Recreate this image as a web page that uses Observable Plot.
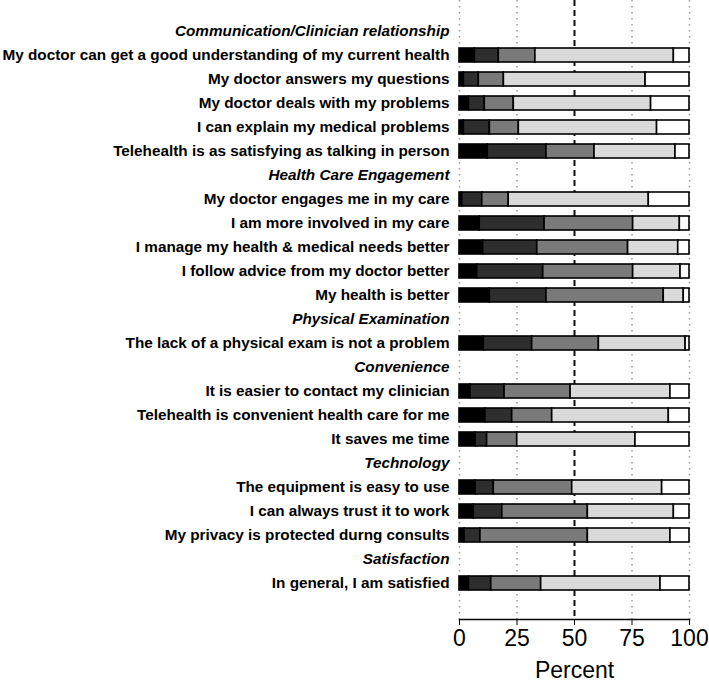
<!DOCTYPE html>
<html>
<head>
<meta charset="utf-8">
<script src="https://cdn.jsdelivr.net/npm/d3@7"></script>
<script src="https://cdn.jsdelivr.net/npm/@observablehq/plot@0.6"></script>
<style>
  html, body { margin: 0; padding: 0; background: #fff; }
  #chart { width: 709px; height: 683px; }
</style>
</head>
<body>
<div id="chart"></div>
<script>
const groups = [
  "Communication/Clinician relationship",
  "Health Care Engagement",
  "Physical Examination",
  "Convenience",
  "Technology",
  "Satisfaction"
];
const items = [
  "My doctor can get a good understanding of my current health",
  "My doctor answers my questions",
  "My doctor deals with my problems",
  "I can explain my medical problems",
  "Telehealth is as satisfying as talking in person",
  "My doctor engages me in my care",
  "I am more involved in my care",
  "I manage my health & medical needs better",
  "I follow advice from my doctor better",
  "My health is better",
  "The lack of a physical exam is not a problem",
  "It is easier to contact my clinician",
  "Telehealth is convenient health care for me",
  "It saves me time",
  "The equipment is easy to use",
  "I can always trust it to work",
  "My privacy is protected durng consults",
  "In general, I am satisfied"
];
const itemGroup = [0,0,0,0,0, 1,1,1,1,1, 2, 3,3,3, 4,4,4, 5];
const levels = ["Level 1", "Level 2", "Level 3", "Level 4", "Level 5"];
const levelColors = ["#000000", "#2e2e2e", "#7a7a7a", "#dadada", "#ffffff"];
const level1 = [6.7, 1.9, 4.1, 1.9, 12.3, 1.2, 8.8, 10.3, 7.7, 13.2, 10.6, 4.8, 11.3, 7.0, 7.0, 6.2, 2.2, 4.1];
const level2 = [10.4, 6.5, 6.9, 11.3, 25.5, 8.7, 28.2, 23.5, 28.7, 24.6, 21.0, 14.8, 11.6, 5.0, 7.9, 12.4, 6.9, 9.7];
const level3 = [15.9, 10.9, 12.6, 12.6, 20.9, 11.5, 38.5, 39.5, 39.1, 51.0, 29.0, 28.7, 17.4, 13.1, 34.1, 37.2, 46.7, 21.7];
const level4 = [60.2, 61.6, 59.7, 60.1, 35.2, 60.9, 20.3, 21.8, 20.6, 8.7, 37.7, 43.4, 50.7, 51.4, 39.1, 37.4, 35.9, 51.9];
const level5 = [6.8, 19.1, 16.7, 14.1, 6.1, 17.7, 4.2, 4.9, 3.9, 2.5, 1.7, 8.3, 9.0, 23.5, 11.9, 6.8, 8.3, 12.6];
const xTicks = [0, 25, 50, 75, 100];
const dottedTicks = [0, 25, 75, 100];

// Build row order: header followed by its items
const rowOrder = [];
groups.forEach((g, gi) => {
  rowOrder.push(g);
  items.forEach((it, i) => { if (itemGroup[i] === gi) rowOrder.push(it); });
});
const levelValues = [level1, level2, level3, level4, level5];
const table = [];
items.forEach((it, i) => {
  levels.forEach((lv, li) => table.push({item: it, level: lv, value: levelValues[li][i]}));
});
const firstItems = items.filter((it, i) => i === 0);
const otherRows = rowOrder.slice(2);

const chart = Plot.plot({
  width: 709,
  height: 683,
  marginTop: 0,
  marginLeft: 459,
  marginRight: 20,
  marginBottom: 64,
  style: {fontFamily: "Liberation Sans, Arial, sans-serif", color: "#000", background: "#fff"},
  x: {domain: [0, 100], axis: null},
  y: {domain: rowOrder, range: [10.8, 603], padding: 0.42, axis: null},
  color: {domain: levels, range: levelColors},
  marks: [
    Plot.ruleX(dottedTicks, {stroke: "#9a9a9a", strokeWidth: 1.5, strokeDasharray: "1.5,4.5"}),
    Plot.ruleX([50], {stroke: "#111", strokeWidth: 2, strokeDasharray: "6,4"}),
    Plot.ruleX(firstItems, {x: 0, y: d => d, stroke: "#444", strokeWidth: 2, insetTop: -18, insetBottom: -6}),
    Plot.ruleX(otherRows, {x: 0, y: d => d, stroke: "#444", strokeWidth: 2, insetTop: -6, insetBottom: -6}),
    Plot.barX(table, {y: "item", x: "value", fill: "level", stroke: "#000", strokeWidth: 1.6}),
    Plot.text(items, {x: 0, y: d => d, text: d => d, textAnchor: "end", dx: -10, fontSize: 15.3, fontWeight: "bold", fill: "#000"}),
    Plot.text(groups, {x: 0, y: d => d, text: d => d, textAnchor: "end", dx: -10, fontSize: 15.3, fontWeight: "bold", fontStyle: "italic", fill: "#000"}),
    Plot.frame({anchor: "bottom", stroke: "#000", strokeWidth: 1.5}),
    Plot.axisX({ticks: xTicks, tickSize: 6, tickPadding: 4, fontSize: 23, label: "Percent", labelAnchor: "center", labelOffset: 58, labelArrow: "none"})
  ]
});
document.getElementById("chart").appendChild(chart);
</script>
</body>
</html>
